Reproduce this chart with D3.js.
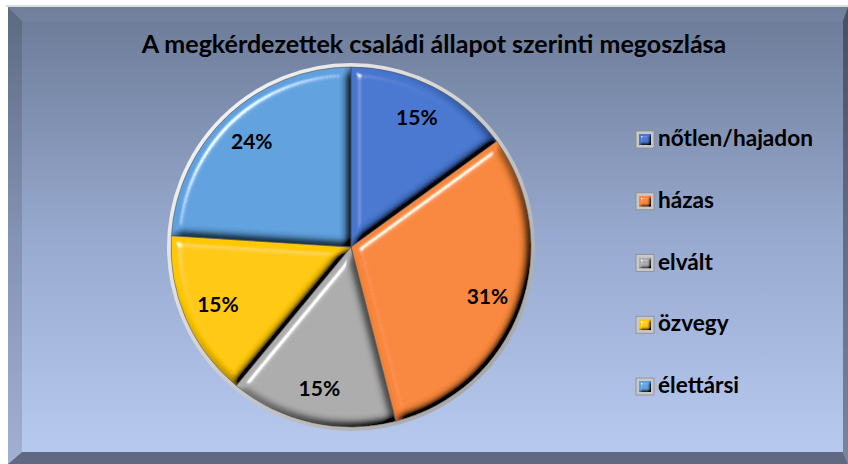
<!DOCTYPE html>
<html>
<head>
<meta charset="utf-8">
<script src="https://cdn.jsdelivr.net/npm/d3@7"></script>
<style>
  body { margin: 0; background: #fff; }
  text { font-family: Lato, "Open Sans", sans-serif; font-weight: bold; fill: #000; }
</style>
</head>
<body>
<svg id="chart" width="848" height="464"></svg>
<script>
const title = "A megkérdezettek családi állapot szerinti megoszlása";
const categories = ["nőtlen/hajadon", "házas", "elvált", "özvegy", "élettársi"];
const values = [15, 31, 15, 15, 24];
const colors = ["#4676cf", "#f8863a", "#acacac", "#ffc800", "#5fa0dd"];

const W = 848, H = 464;
const svg = d3.select("#chart");
const defs = svg.append("defs");

// background gradient
let bg = defs.append("linearGradient").attr("id", "bg")
    .attr("x1", 0).attr("y1", 0).attr("x2", 0).attr("y2", 1);
bg.append("stop").attr("offset", "0%").attr("stop-color", "#6b7a96");
bg.append("stop").attr("offset", "50%").attr("stop-color", "#97a9ce");
bg.append("stop").attr("offset", "100%").attr("stop-color", "#bacbf2");

// bevel filter for slices
function bevel(id, sd, scale) {
    let f = defs.append("filter").attr("id", id)
        .attr("x", "-10%").attr("y", "-10%").attr("width", "120%").attr("height", "120%");
    f.append("feGaussianBlur").attr("in", "SourceAlpha").attr("stdDeviation", sd).attr("result", "blur");
    f.append("feDiffuseLighting").attr("in", "blur").attr("surfaceScale", scale)
        .attr("diffuseConstant", 1.31).attr("lighting-color", "#fff").attr("result", "diff")
        .append("feDistantLight").attr("azimuth", 225).attr("elevation", 50);
    f.append("feComposite").attr("in", "SourceGraphic").attr("in2", "diff")
        .attr("operator", "arithmetic").attr("k1", 1).attr("k2", 0).attr("k3", 0).attr("k4", 0).attr("result", "shaded");
    f.append("feSpecularLighting").attr("in", "blur").attr("surfaceScale", scale)
        .attr("specularConstant", 0.8).attr("specularExponent", 45).attr("lighting-color", "#fff").attr("result", "spec")
        .append("feDistantLight").attr("azimuth", 225).attr("elevation", 40);
    f.append("feComposite").attr("in", "spec").attr("in2", "SourceAlpha").attr("operator", "in").attr("result", "specIn");
    f.append("feComposite").attr("in", "shaded").attr("in2", "specIn")
        .attr("operator", "arithmetic").attr("k1", 0).attr("k2", 1).attr("k3", 1).attr("k4", 0).attr("result", "lit");
    f.append("feComposite").attr("in", "lit").attr("in2", "SourceAlpha").attr("operator", "in");
}
bevel("bevel", 5, 9);
bevel("bevelSmall", 1.5, 3);

// frame
svg.append("rect").attr("x", 0).attr("y", 0).attr("width", W).attr("height", H).attr("fill", "#fff");
svg.append("rect").attr("x", 6).attr("y", 5).attr("width", W - 6).attr("height", 2).attr("fill", "#dcdcdc");
svg.append("rect").attr("x", 8).attr("y", 7).attr("width", W - 8).attr("height", H - 7).attr("fill", "url(#bg)");
svg.append("polygon").attr("points", "8,7 22,21 22,452 8,464").attr("fill", "#000").attr("opacity", 0.13);
svg.append("polygon").attr("points", "8,7 848,7 843,21 22,21").attr("fill", "#fff").attr("opacity", 0.04);
svg.append("polygon").attr("points", "848,7 843,21 843,452 848,464").attr("fill", "#000").attr("opacity", 0.35);
svg.append("polygon").attr("points", "8,464 22,452 843,452 848,464").attr("fill", "#5f6a82");

// title
let t = svg.append("text").attr("x", 434).attr("y", 53).attr("text-anchor", "middle")
    .style("font-size", "20px").text(title);
let tl = t.node().getComputedTextLength();
t.style("font-size", (20 * 585 / tl).toFixed(2) + "px");

// pie
const cx = 351, cy = 247, r = 180;
const pie = d3.pie().sort(null).value(d => d)(values);
const arc = d3.arc().innerRadius(0).outerRadius(r);
const labelArc = d3.arc().innerRadius(145).outerRadius(145);

let rim = defs.append("linearGradient").attr("id", "rim")
    .attr("x1", 0).attr("y1", 0).attr("x2", 1).attr("y2", 1);
rim.append("stop").attr("offset", "0%").attr("stop-color", "#ffffff");
rim.append("stop").attr("offset", "100%").attr("stop-color", "#9a9a9a");

const g = svg.append("g").attr("transform", `translate(${cx},${cy})`);
g.append("circle").attr("r", r + 2).attr("fill", "none").attr("stroke", "url(#rim)").attr("stroke-width", 4);

g.selectAll("path.slice")
    .data(pie)
    .enter()
    .append("path")
    .classed("slice", true)
    .attr("d", arc)
    .attr("fill", (d, i) => colors[i])
    .attr("filter", "url(#bevel)");

g.selectAll("path.sep")
    .data(pie)
    .enter()
    .append("path")
    .classed("sep", true)
    .attr("d", d => arc(d))
    .attr("fill", "none")
    .attr("stroke", "#4a4a4a")
    .attr("stroke-opacity", 0.5)
    .attr("stroke-width", 1);

g.selectAll("text.lbl")
    .data(pie)
    .enter()
    .append("text")
    .classed("lbl", true)
    .attr("transform", d => `translate(${labelArc.centroid(d)})`)
    .attr("text-anchor", "middle")
    .attr("dy", "0.36em")
    .style("font-size", "21px")
    .text(d => d3.format(".0%")(d.value / d3.sum(values)));

// legend
const yLeg = d3.scalePoint().domain(categories).range([146, 393]);
const leg = svg.append("g").selectAll("g")
    .data(categories)
    .enter()
    .append("g")
    .attr("transform", d => `translate(636,${yLeg(d)})`);

leg.append("rect").attr("x", 0).attr("y", -15).attr("width", 18).attr("height", 17)
    .attr("fill", "#c8c8c8").attr("stroke", "#8a8a8a").attr("stroke-width", 0.8);
leg.append("rect").attr("x", 3).attr("y", -12).attr("width", 12).attr("height", 11)
    .attr("fill", (d, i) => colors[i]).attr("filter", "url(#bevelSmall)");

let lt = leg.append("text").attr("x", 22).attr("y", 0).style("font-size", "19px").text(d => d);
let w0 = lt.filter((d, i) => i == 0).node().getComputedTextLength();
lt.style("font-size", (19 * 155 / w0).toFixed(2) + "px");
</script>
</body>
</html>
